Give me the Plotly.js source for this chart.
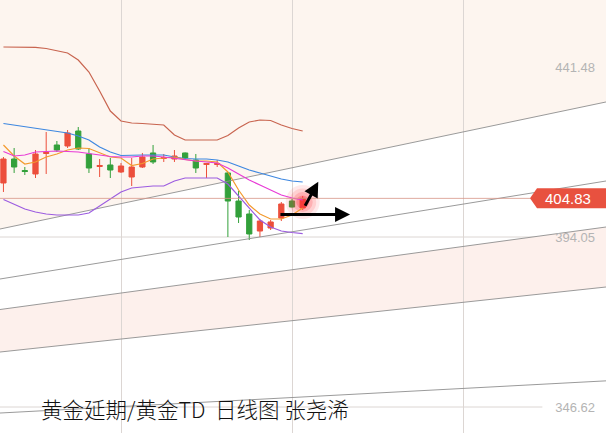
<!DOCTYPE html>
<html><head><meta charset="utf-8">
<script src="https://cdn.plot.ly/plotly-3.0.1.min.js"></script>
<style>html,body{margin:0;padding:0;background:#fff}#chart{width:606px;height:433px}</style>
</head><body><div id="chart"></div>
<script>
// ---- data ----
const dayIndex = [0,1,2,3,4,5,6,7,8,9,10,11,12,13,14,15,16,17,18,19,20,21,22,23,24,25,26,27,28];
const openPrices  = [409.12,415.81,412.60,411.63,417.35,419.72,419.44,423.62,417.21,413.72,414.14,412.19,410.79,413.58,417.49,415.95,415.81,417.49,415.53,414.28,414.28,411.91,404.09,400.47,395.72,396.56,399.35,404.09,402.14];
const highPrices  = [416.37,418.88,413.58,418.32,423.34,420.83,423.90,424.74,418.88,415.81,416.09,414.70,416.09,417.49,419.72,417.21,418.32,417.63,417.21,414.70,415.53,412.19,406.88,401.58,399.07,398.79,403.81,404.65,405.49];
const lowPrices   = [406.61,411.91,411.35,410.51,411.63,417.77,418.88,418.32,411.91,410.79,410.51,411.91,408.28,413.30,414.42,414.98,414.98,415.53,411.91,410.51,413.58,394.05,397.96,393.21,394.05,396.00,398.51,402.28,401.58];
const closePrices = [415.81,413.58,412.32,417.21,417.63,418.32,423.07,418.60,413.30,414.00,412.74,413.86,413.58,416.37,414.98,416.23,416.65,416.09,413.30,414.56,414.56,404.09,399.63,394.89,398.51,398.24,403.26,402.42,404.83];

const upperBand = [447.06,447.06,447.06,446.97,446.64,446.08,445.39,443.43,440.08,434.78,429.20,426.41,425.86,425.72,425.58,425.30,422.51,421.11,421.11,421.11,421.11,422.37,424.46,426.14,426.69,426.55,425.30,424.32,423.62];
const midBand   = [425.72,425.30,424.74,424.32,423.90,423.48,423.07,422.23,421.11,419.16,417.77,416.79,416.93,416.93,416.93,416.93,416.37,415.95,415.81,415.81,415.53,414.98,413.86,412.74,411.91,411.07,410.23,409.67,409.40];
const lowerBand = [404.51,403.26,401.86,401.03,400.47,400.19,400.19,400.19,400.75,402.70,404.65,406.61,407.72,408.00,408.28,408.28,409.67,410.51,410.51,410.51,410.51,408.84,405.49,401.86,398.79,396.84,395.72,395.30,395.02];
const ma5  = [419.72,416.65,414.42,414.98,416.37,417.21,418.32,418.88,418.74,417.49,416.37,416.09,414.00,414.56,415.81,416.09,416.37,415.67,415.25,415.25,414.98,412.19,407.16,402.98,400.47,399.07,399.07,400.19,402.14];
const ma10 = [417.90,416.65,416.93,417.77,417.90,418.04,417.90,417.77,417.35,416.93,416.51,416.37,416.37,416.65,416.65,416.37,415.95,415.53,415.25,414.98,414.70,413.30,411.63,409.95,408.56,407.16,405.77,404.93,404.37];

const yTickVals = [346.62, 394.05, 441.48];
const yTickText = ['346.62', '394.05', '441.48'];
const xGridVals = [11, 27, 43];
const xRange = [-0.322, 56.38];
const yRange = [339.37, 460.17];

// channel lines: price at left and right edge
const channelX = [-0.322, 56.38];
const channel1 = [396.28, 431.72];
const channel2 = [382.33, 409.67];
const channel3 = [373.82, 396.84];
const channel4 = [361.96, 380.10];
const channel5 = [344.94, 353.92];

const lastPrice = 404.83;
const lastPriceText = '404.83';
const titleText = '黄金延期/黄金TD\u00a0\u00a0日线图 张尧浠';
// arrows: [tailX, tailY, headX, headY]
const arrows = [[28.15, 402.34, 29.46, 409.48], [25.78, 400.33, 32.43, 400.33]];

// ---- traces ----
const RED = '#ec4f3c', GREEN = '#33a03b';
const traces = [];
[channel1, channel2, channel3, channel4, channel5].forEach(c => {
  traces.push({type:'scatter', mode:'lines', x: channelX, y: c, line:{color:'#8f8f8f', width:0.9}, hoverinfo:'skip', showlegend:false});
});
// glow under last candle (stacked translucent markers)
const lastIdx = dayIndex.length - 1;
[[34, 0.10], [27, 0.14], [20, 0.2], [13, 0.3]].forEach(([s, a]) => {
  traces.push({type:'scatter', mode:'markers', x:[dayIndex[lastIdx]], y:[closePrices[lastIdx]-1.0],
    marker:{size:s, color:'rgba(255,50,60,' + a + ')', line:{width:0}}, hoverinfo:'skip', showlegend:false});
});
traces.push({type:'candlestick', x: dayIndex, open: openPrices, high: highPrices, low: lowPrices, close: closePrices,
  increasing:{line:{color:RED, width:1}, fillcolor:RED},
  decreasing:{line:{color:GREEN, width:1}, fillcolor:GREEN},
  whiskerwidth:0, hoverinfo:'skip', showlegend:false});
const lineSpec = [[upperBand,'#c8644f'],[midBand,'#3d87e0'],[lowerBand,'#9c5ce0'],[ma5,'#f39a2e'],[ma10,'#e83ad6']];
lineSpec.forEach(([arr, col]) => {
  traces.push({type:'scatter', mode:'lines', x: dayIndex, y: arr, line:{color:col, width:1.2}, hoverinfo:'skip', showlegend:false});
});

// ---- shapes ----
const P = (x, y) => x + ',' + y;
const shapes = [
  {type:'path', xref:'x', yref:'y', layer:'below', line:{width:0}, fillcolor:'#fdf5ef',
   path:'M ' + P(channelX[0], yRange[1]) + ' L ' + P(channelX[1], yRange[1]) + ' L ' + P(channelX[1], channel1[1]) + ' L ' + P(channelX[0], channel1[0]) + ' Z'},
  {type:'path', xref:'x', yref:'y', layer:'below', line:{width:0}, fillcolor:'#fdf0ec',
   path:'M ' + P(channelX[0], channel3[0]) + ' L ' + P(channelX[1], channel3[1]) + ' L ' + P(channelX[1], channel4[1]) + ' L ' + P(channelX[0], channel4[0]) + ' Z'}
];
yTickVals.forEach(v => shapes.push({type:'line', xref:'paper', yref:'y', x0:0, x1:0.895, y0:v, y1:v, layer:'below', line:{color:'#dcd6d3', width:1}}));
shapes.push({type:'line', xref:'paper', yref:'y', x0:0, x1:0.875, y0:lastPrice, y1:lastPrice, layer:'above', line:{color:'rgba(215,150,135,0.8)', width:1}});
shapes.push({type:'path', xref:'paper', yref:'y', xsizemode:'pixel', ysizemode:'pixel', xanchor:1, yanchor:lastPrice,
  path:'M -76,0 L -69,10 L 0,10 L 0,-10 L -69,-10 Z', fillcolor:'#e8513f', line:{width:0}, layer:'above'});

// ---- annotations ----
const annotations = [
  {xref:'paper', yref:'y', x:568/606, y:lastPrice, text:lastPriceText, showarrow:false, xanchor:'center', yanchor:'middle',
   font:{family:'Liberation Sans, Arial, sans-serif', size:15, color:'#ffffff'}},
  {xref:'paper', yref:'paper', x:39/606, y:1-408/433, text:titleText, showarrow:false, xanchor:'left', yanchor:'middle',
   font:{family:'Noto Sans CJK SC, sans-serif', size:21.5, color:'#111111', weight:300}}
];
arrows.forEach(a => annotations.push({xref:'x', yref:'y', axref:'x', ayref:'y', ax:a[0], ay:a[1], x:a[2], y:a[3], text:'',
  showarrow:true, arrowhead:2, arrowsize:1, arrowwidth:3, arrowcolor:'#000000', standoff:0, startstandoff:0}));

const layout = {
  width:606, height:433, margin:{l:0, r:0, t:0, b:0},
  paper_bgcolor:'#ffffff', plot_bgcolor:'#ffffff', showlegend:false, hovermode:false,
  xaxis:{range:xRange, tickvals:xGridVals, showticklabels:false, showgrid:true, gridcolor:'#dcd6d3', gridwidth:1,
         zeroline:false, showline:false, ticks:'', rangeslider:{visible:false}, fixedrange:true},
  yaxis:{range:yRange, side:'right', tickvals:yTickVals, ticktext:yTickText, ticklabelposition:'inside', ticklabelstandoff:8,
         showgrid:false, zeroline:false, showline:false, ticks:'', fixedrange:true,
         tickfont:{family:'Liberation Sans, Arial, sans-serif', size:13, color:'#b4b4b4'}},
  boxgap:0.3,
  shapes: shapes, annotations: annotations
};
Plotly.newPlot('chart', traces, layout, {staticPlot:true, displayModeBar:false});
</script></body></html>
